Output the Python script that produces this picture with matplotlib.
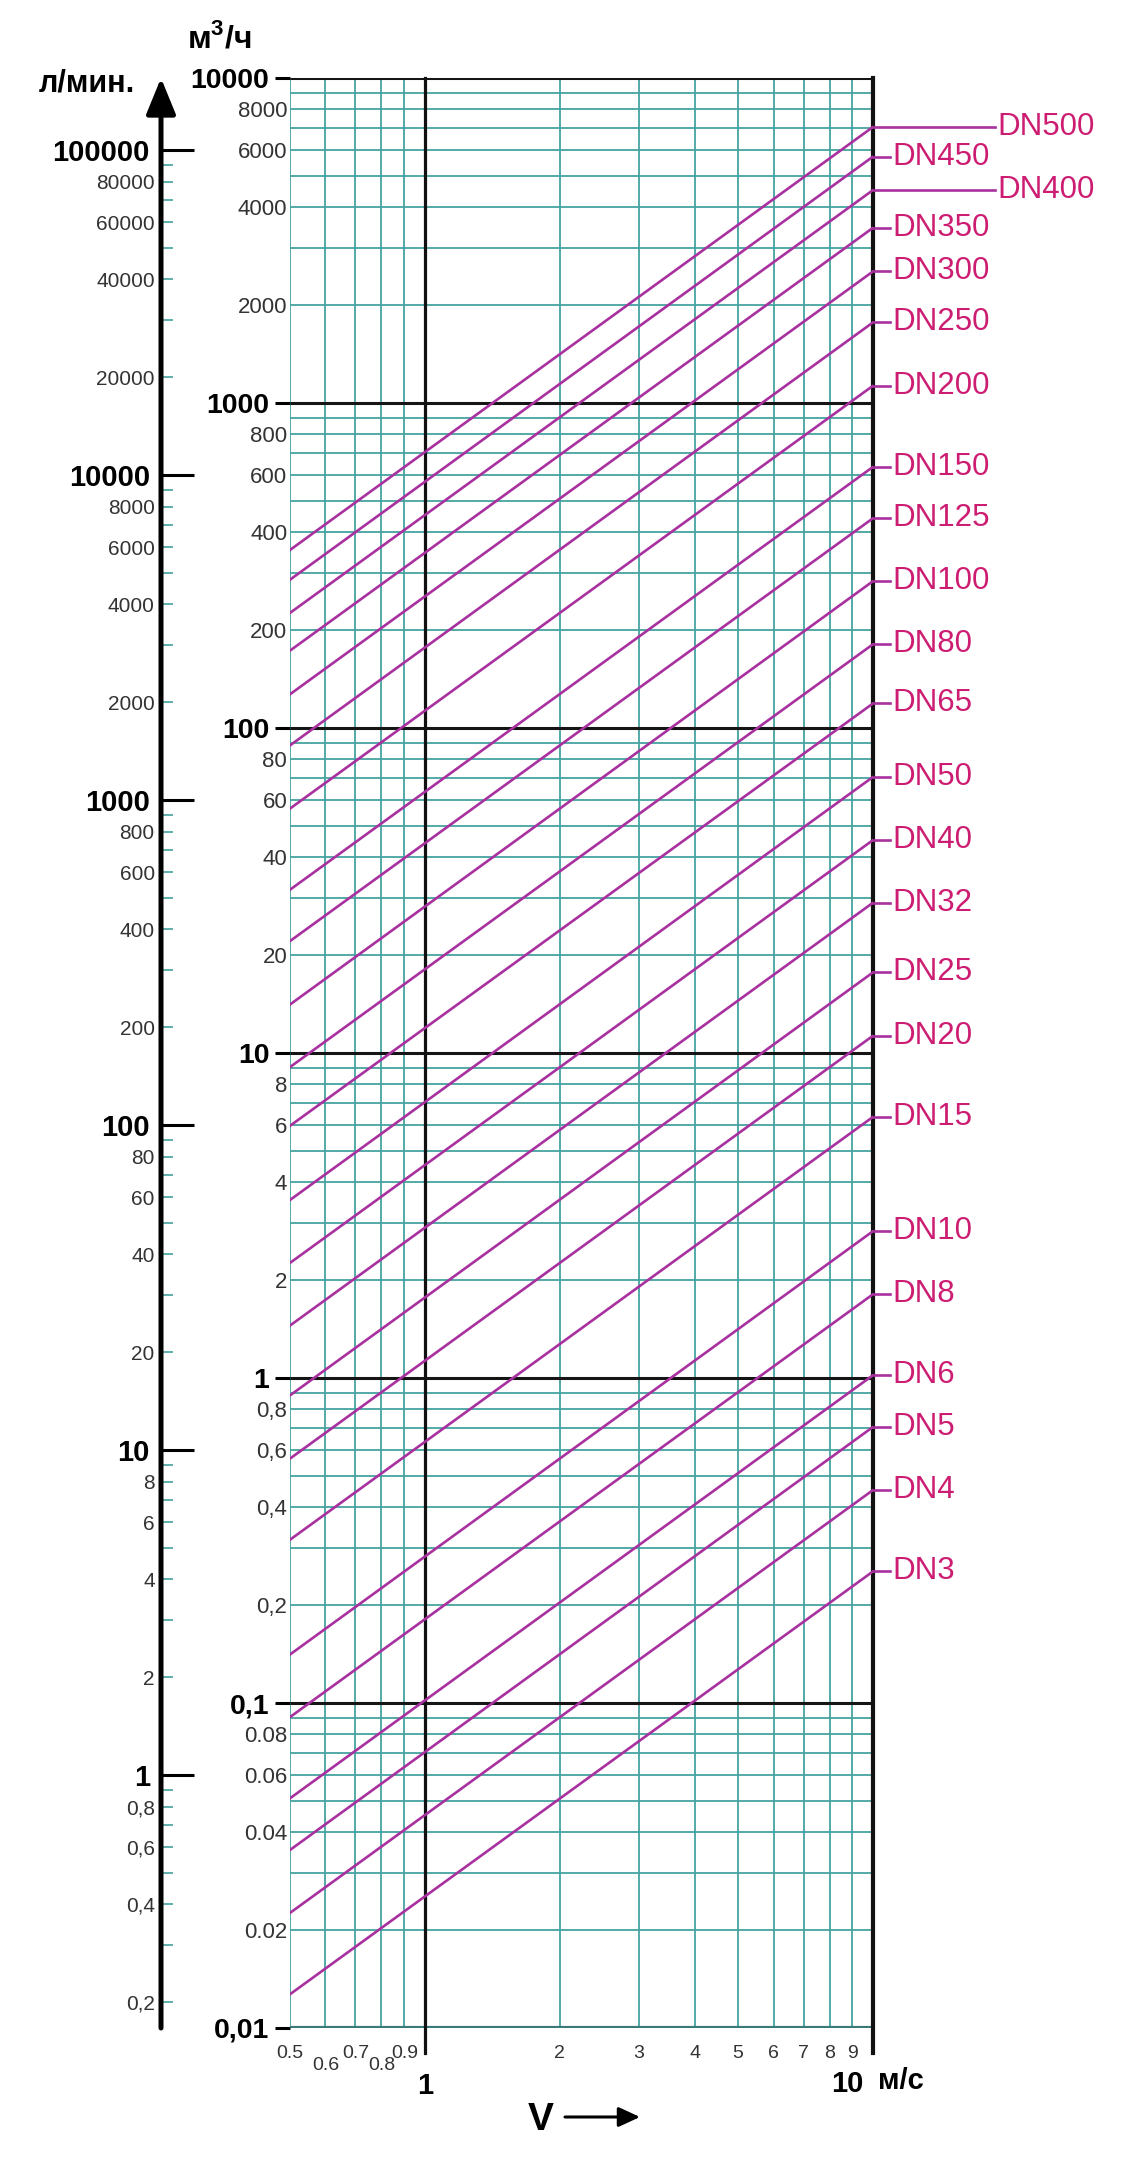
import matplotlib

matplotlib.use("Agg")
import matplotlib.pyplot as plt  # noqa: E402
import numpy as np  # noqa: E402
from matplotlib.ticker import NullLocator  # noqa: E402

plt.rcParams["font.family"] = ["Liberation Sans", "DejaVu Sans"]
plt.rcParams["mathtext.fontset"] = "custom"
plt.rcParams["mathtext.rm"] = "Liberation Sans:bold"

# nominal pipe diameters and flow (m3/h) read at the two ends of each line
DN = [3, 4, 5, 6, 8, 10, 15, 20, 25, 32, 40, 50, 65, 80, 100, 125, 150, 200,
      250, 300, 350, 400, 450, 500]
VELOCITY = [0.5, 10]  # m/s
FLOW_AT_V05 = [0.0127, 0.0226, 0.0353, 0.0509, 0.0905, 0.141, 0.318, 0.565,
               0.884, 1.45, 2.26, 3.53, 5.97, 9.05, 14.1, 22.1, 31.8, 56.5,
               88.4, 127, 173, 226, 286, 353]
FLOW_AT_V10 = [0.254, 0.452, 0.707, 1.02, 1.81, 2.83, 6.36, 11.3, 17.7, 29.0,
               45.2, 70.7, 119, 181, 283, 442, 636, 1130, 1770, 2540, 3460,
               4520, 5730, 7070]

Q_MAJOR = [0.01, 0.1, 1, 10, 100, 1000, 10000]
Q_MAJOR_LABELS = ["0,01", "0,1", "1", "10", "100", "1000", "10000"]
Q_MINOR = [0.02, 0.04, 0.06, 0.08, 0.2, 0.4, 0.6, 0.8, 2, 4, 6, 8,
           20, 40, 60, 80, 200, 400, 600, 800, 2000, 4000, 6000, 8000]
Q_MINOR_LABELS = ["0.02", "0.04", "0.06", "0.08", "0,2", "0,4", "0,6", "0,8",
                  "2", "4", "6", "8", "20", "40", "60", "80",
                  "200", "400", "600", "800", "2000", "4000", "6000", "8000"]

LPM_MAJOR = [1, 10, 100, 1000, 10000, 100000]
LPM_MAJOR_LABELS = ["1", "10", "100", "1000", "10000", "100000"]
LPM_MINOR = [0.2, 0.4, 0.6, 0.8, 2, 4, 6, 8, 20, 40, 60, 80, 200, 400, 600,
             800, 2000, 4000, 6000, 8000, 20000, 40000, 60000, 80000]
LPM_MINOR_LABELS = ["0,2", "0,4", "0,6", "0,8", "2", "4", "6", "8",
                    "20", "40", "60", "80", "200", "400", "600", "800",
                    "2000", "4000", "6000", "8000",
                    "20000", "40000", "60000", "80000"]
M3H_TO_LPM = 1000 / 60

V_TICKS = [0.5, 0.6, 0.7, 0.8, 0.9, 2, 3, 4, 5, 6, 7, 8, 9]
V_TICK_LABELS = ["0.5", "0.6", "0.7", "0.8", "0.9",
                 "2", "3", "4", "5", "6", "7", "8", "9"]

TEAL = "#45a3a0"
DARK_TEAL = "#3b7878"
LINE = "#a8309f"
LABEL = "#cc1d72"

W, H = 1143, 2180
X0, X1, YT, YB = 290, 873, 78, 2028  # plot box in pixels


def fx(px):
    return px / W


def fy(py):
    return 1 - py / H


def ay(py):
    return (YB - py) / (YB - YT)


fig = plt.figure(figsize=(W / 100, H / 100), dpi=100)
ax = fig.add_axes([fx(X0), fy(YB), (X1 - X0) / W, (YB - YT) / H])
ax.set_xscale("log")
ax.set_yscale("log")
ax.set_xlim(0.5, 10)
ax.set_ylim(0.01, 10000)
for spine in ax.spines.values():
    spine.set_visible(False)

decades = np.array([0.01, 0.1, 1, 10, 100, 1000])
q_grid = np.outer(decades, np.arange(2, 10)).ravel()
v_grid = np.concatenate([np.arange(5, 10) / 10, np.arange(2, 10)])
ax.hlines(q_grid, 0.5, 10, color=TEAL, lw=1.3, zorder=1)
ax.vlines(v_grid, 0.01, 10000, color=TEAL, lw=1.3, zorder=1)
ax.hlines(Q_MAJOR[1:], 0.5, 10, color="#151515", lw=2.2, zorder=2)
ax.hlines(Q_MAJOR[0], 0.5, 10, color=DARK_TEAL, lw=3, zorder=2)

xtrans = ax.get_xaxis_transform()
ax.plot([1, 1], [ay(2053), 1], transform=xtrans, color="#111111", lw=2.3,
        clip_on=False, zorder=2)
ax.plot([10, 10], [ay(2053), 1], transform=xtrans, color="#111111", lw=3,
        clip_on=False, zorder=2)

for q0, q1 in zip(FLOW_AT_V05, FLOW_AT_V10):
    ax.plot(VELOCITY, [q0, q1], color=LINE, lw=1.9, zorder=3)

ytrans = ax.get_yaxis_transform()
for dn, q in zip(DN, FLOW_AT_V10):
    lead = 122 if dn in (400, 500) else 17
    x_end = 1 + lead / (X1 - X0)
    ax.plot([1, x_end], [q, q], transform=ytrans, color=LINE, lw=1.9,
            clip_on=False)
    ax.text(x_end + 2 / (X1 - X0), q, f"DN{dn}", transform=ytrans,
            ha="left", va="center", fontsize=22.5, color=LABEL)

ax.set_yticks(Q_MAJOR, Q_MAJOR_LABELS)
ax.set_yticks(Q_MINOR, Q_MINOR_LABELS, minor=True)
ax.tick_params(axis="y", which="major", direction="out", length=10.8,
               width=2.2, pad=4, labelsize=20.5)
ax.tick_params(axis="y", which="minor", length=0, pad=2, labelsize=16,
               labelcolor="#333333")
for lbl in ax.get_yticklabels():
    lbl.set_fontweight("bold")
ax.set_xticks([])
ax.xaxis.set_minor_locator(NullLocator())

for v, lab in zip(V_TICKS, V_TICK_LABELS):
    low = lab in ("0.6", "0.8")
    ax.text(v, ay(2066 if low else 2053), lab, transform=xtrans, ha="center",
            va="center", fontsize=14, color="#333333")
ax.text(1, ay(2086), "1", transform=xtrans, ha="center", va="center",
        fontsize=21, fontweight="bold")
fig.text(fx(847), fy(2084), "10", ha="center", va="center", fontsize=21,
         fontweight="bold")
fig.text(fx(878), fy(2081), "м/с", ha="left", va="center", fontsize=21,
         fontweight="bold")

# second scale in l/min on the left
ax2 = fig.add_axes([fx(161), fy(YB), 0.0001, (YB - YT) / H])
ax2.set_yscale("log")
ax2.set_ylim(0.01 * M3H_TO_LPM, 10000 * M3H_TO_LPM)
ax2.patch.set_visible(False)
for spine in ax2.spines.values():
    spine.set_visible(False)
ax2.set_xticks([])
lpm_grid = np.outer([0.1, 1, 10, 100, 1000, 10000], np.arange(2, 10)).ravel()
lpm_grid = lpm_grid[lpm_grid > 0.01 * M3H_TO_LPM]
minor_names = dict(zip(LPM_MINOR, LPM_MINOR_LABELS))
ax2.set_yticks(LPM_MAJOR, LPM_MAJOR_LABELS)
ax2.set_yticks(lpm_grid, [minor_names.get(round(float(t), 6), "")
                          for t in lpm_grid], minor=True)
ax2.tick_params(axis="y", which="major", direction="in", length=23.8,
                width=2.2, pad=8, labelsize=21)
ax2.tick_params(axis="y", which="minor", direction="in", length=8.6,
                width=1.2, color=TEAL, pad=4.5, labelsize=15,
                labelcolor="#333333")
for lbl in ax2.get_yticklabels():
    lbl.set_fontweight("bold")
ax2.annotate("", xy=(0, 1.0), xytext=(0, 0), xycoords="axes fraction",
             arrowprops=dict(arrowstyle="-|>,head_length=2.2,head_width=0.9",
                             lw=3.6, color="black", shrinkA=0, shrinkB=0))

fig.text(fx(87), fy(84), "л/мин.", ha="center", va="center", fontsize=22,
         fontweight="bold")
fig.text(fx(219), fy(38), r"м$^{\mathrm{3}}$/ч", ha="center", va="center",
         fontsize=23, fontweight="bold")

fig.text(fx(541), fy(2120), "V", ha="center", va="center", fontsize=28,
         fontweight="bold")
ax.annotate("", xy=(640, H - 2117), xytext=(565, H - 2117),
            xycoords="figure pixels",
            arrowprops=dict(arrowstyle="-|>,head_length=1.3,head_width=0.6",
                            lw=2.2, color="black", shrinkA=0, shrinkB=0))

fig.savefig("out.png", dpi=100)
